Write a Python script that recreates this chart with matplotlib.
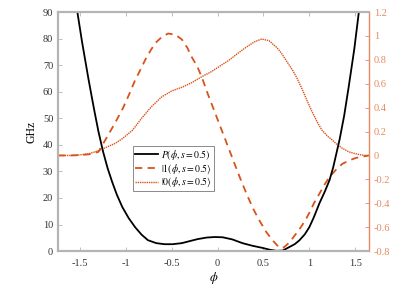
import matplotlib
matplotlib.use("Agg")
import matplotlib.pyplot as plt

plt.rcParams['font.family'] = ['Liberation Serif', 'DejaVu Serif']
plt.rcParams['mathtext.fontset'] = 'stix'

# Potential P(phi, s=0.5) in GHz (left axis)
phi_P = [-1.53, -1.48, -1.41, -1.37, -1.34, -1.30, -1.25, -1.20, -1.15, -1.10, -1.04,
         -0.97, -0.90, -0.83, -0.76, -0.67, -0.58, -0.49, -0.39, -0.30, -0.22, -0.12,
         -0.03, 0.055, 0.16, 0.27, 0.38, 0.49, 0.57, 0.64, 0.71, 0.78, 0.84, 0.89,
         0.95, 1.00, 1.05, 1.11, 1.17, 1.22, 1.26, 1.29, 1.33, 1.38, 1.43, 1.49, 1.54]
P_vals = [90, 79, 65, 57.5, 52, 45, 37.5, 31.2, 26, 21.3, 16.6,
          12.4, 9.0, 6.2, 4.1, 3.0, 2.6, 2.6, 3.0, 3.8, 4.5, 5.1,
          5.3, 5.2, 4.4, 3.0, 2.0, 1.2, 0.5, 0.1, 0.2, 1.5, 2.6, 4.0,
          6.3, 9.0, 12.8, 18.0, 22.5, 26.7, 31.5, 36, 42, 51, 62, 76, 90]

# |1> state (right axis)
phi_1 = [-1.74, -1.60, -1.50, -1.40, -1.30, -1.21, -1.12, -1.03, -0.96, -0.90, -0.84,
         -0.79, -0.73, -0.68, -0.61, -0.54, -0.46, -0.39, -0.33, -0.28, -0.22, -0.17,
         -0.11, 0.0, 0.08, 0.16, 0.24, 0.32, 0.39, 0.46, 0.53, 0.60, 0.67,
         0.72, 0.78, 0.83, 0.89, 0.95, 1.00, 1.05, 1.11, 1.16, 1.22, 1.29, 1.36,
         1.44, 1.51, 1.58, 1.65]
v_1 = [0.0, 0.0, 0.003, 0.01, 0.03, 0.15, 0.27, 0.40, 0.52, 0.63, 0.72,
       0.80, 0.88, 0.94, 0.99, 1.02, 1.01, 0.97, 0.90, 0.82, 0.74, 0.65,
       0.52, 0.30, 0.14, -0.02, -0.18, -0.33, -0.45, -0.55, -0.64, -0.71, -0.77,
       -0.77, -0.73, -0.68, -0.62, -0.55, -0.48, -0.40, -0.32, -0.25, -0.18, -0.12, -0.07,
       -0.04, -0.02, -0.01, 0.0]

# |0> state (right axis)
phi_0 = [-1.74, -1.60, -1.50, -1.40, -1.30, -1.21, -1.12, -1.04, -0.93, -0.82, -0.72,
         -0.61, -0.50, -0.39, -0.28, -0.17, -0.07, 0.03, 0.13, 0.23, 0.32, 0.40,
         0.48, 0.56, 0.65, 0.70, 0.76, 0.82, 0.87, 0.93, 0.98, 1.04, 1.10, 1.14, 1.20,
         1.25, 1.29, 1.36, 1.43, 1.50, 1.56, 1.62, 1.65]
v_0 = [0.0, 0.0, 0.005, 0.015, 0.04, 0.07, 0.10, 0.14, 0.21, 0.32, 0.41,
       0.49, 0.54, 0.57, 0.61, 0.66, 0.70, 0.75, 0.80, 0.86, 0.91, 0.95,
       0.974, 0.96, 0.90, 0.85, 0.78, 0.71, 0.64, 0.54, 0.45, 0.35, 0.26, 0.21, 0.16,
       0.13, 0.10, 0.06, 0.03, 0.015, 0.005, 0.0, 0.0]

xticks = [-1.5, -1, -0.5, 0, 0.5, 1, 1.5]
xtick_labels = ['-1.5', '-1', '-0.5', '0', '0.5', '1', '1.5']
yticks_left = [0, 10, 20, 30, 40, 50, 60, 70, 80, 90]
yticks_right = [-0.8, -0.6, -0.4, -0.2, 0, 0.2, 0.4, 0.6, 0.8, 1, 1.2]
yright_labels = ['-0.8', '-0.6', '-0.4', '-0.2', '0', '0.2', '0.4', '0.6', '0.8', '1', '1.2']

orange = '#D95319'
orange_axis = '#E58A5E'
gray = '#B4B4B4'

fig = plt.figure(figsize=(4.15, 3.0), dpi=100)
ax = fig.add_axes([0.140, 0.163, 0.749, 0.797])
ax2 = ax.twinx()

lP, = ax.plot(phi_P, P_vals, color='black', lw=1.3, label=r'$P(\phi, s=0.5)$')
l1, = ax2.plot(phi_1, v_1, color=orange, lw=1.3, ls=(0, (4, 3)), label=r'$|1(\phi, s=0.5\rangle$')
l0, = ax2.plot(phi_0, v_0, color=orange, lw=1.0, ls=(0, (1, 0.6)), label=r'$|0(\phi, s=0.5\rangle$')

ax.set_xlim(-1.74, 1.65)
ax.set_ylim(0, 90)
ax2.set_ylim(-0.8, 1.2)
ax.set_xticks(xticks)
ax.set_xticklabels(xtick_labels)
ax.set_yticks(yticks_left)
ax2.set_yticks(yticks_right)
ax2.set_yticklabels(yright_labels)

for s in ['left', 'bottom', 'top']:
    ax2.spines[s].set_color(gray)
    ax2.spines[s].set_linewidth(1.5)
    ax.spines[s].set_color(gray)
    ax.spines[s].set_linewidth(1.5)
ax.spines['right'].set_visible(False)
ax2.spines['right'].set_color(orange_axis)
ax2.spines['right'].set_linewidth(1.0)

ax.tick_params(axis='both', direction='in', labelsize=7.5, colors='#333333', length=3, width=0.6,
               top=True, color=gray)
ax.tick_params(axis='x', pad=6)
ax2.tick_params(axis='y', direction='in', labelsize=7.5, colors=orange_axis, length=3, width=0.6)

ax.set_ylabel('GHz', fontsize=8.5, labelpad=4)
ax.set_xlabel(r'$\phi$', fontsize=9, labelpad=1)

leg = ax.legend(handles=[lP, l1, l0], loc='upper left', bbox_to_anchor=(0.24, 0.44),
                fontsize=7, frameon=True, fancybox=False, edgecolor='#555555',
                borderpad=0.2, labelspacing=0.05, handlelength=2.4, handletextpad=0.3,
                borderaxespad=0)
leg.get_frame().set_linewidth(0.6)
ax.set_zorder(ax2.get_zorder() + 1)
ax.patch.set_visible(False)

fig.savefig('out.png', dpi=100)
